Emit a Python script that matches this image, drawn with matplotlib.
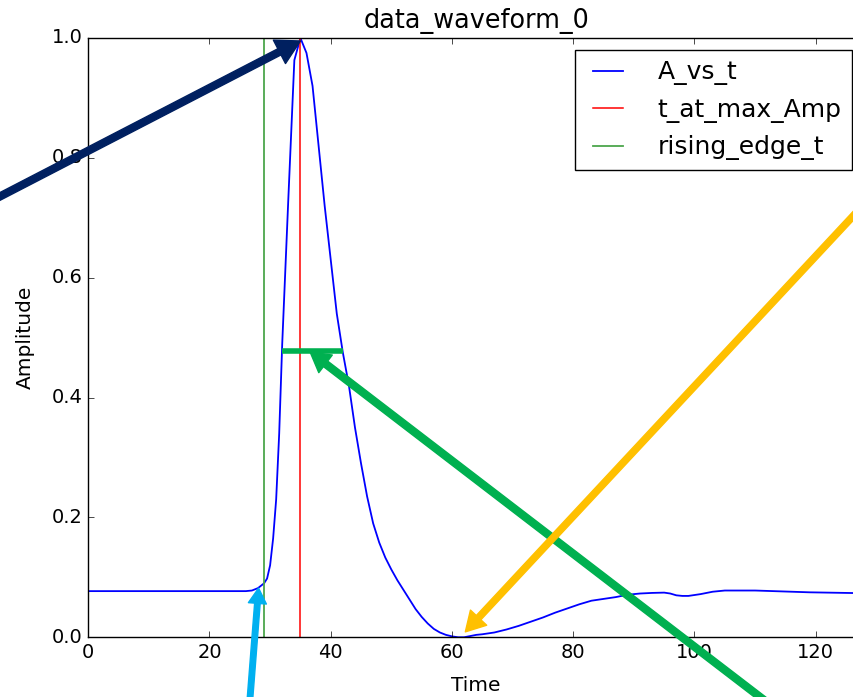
import matplotlib
matplotlib.use("Agg")
import matplotlib.pyplot as plt

# ---------------- data ----------------
time = [0, 5, 10, 15, 20, 25, 26, 27, 28, 29, 29.5, 30, 30.5, 31, 31.5, 32,
        33, 34, 35, 36, 37, 38, 39, 40, 41, 42, 43, 44, 45, 46, 47, 48, 49,
        50, 51, 52, 53, 54, 55, 56, 57, 58, 59, 60, 61, 62, 63, 64, 65, 67,
        69, 71, 73, 75, 77, 79, 81, 83, 85, 87, 89, 91, 93, 95, 96, 97, 98,
        99, 100, 101, 102, 103, 104, 105, 107, 110, 113, 116, 119, 122, 125,
        128]
amplitude = [0.077, 0.077, 0.077, 0.077, 0.077, 0.077, 0.077, 0.078, 0.082,
             0.09, 0.098, 0.12, 0.165, 0.23, 0.34, 0.49,
             0.73, 0.963, 1.0, 0.975, 0.92, 0.82, 0.72, 0.63, 0.54, 0.475,
             0.42, 0.35, 0.29, 0.235, 0.19, 0.158, 0.133,
             0.113, 0.095, 0.079, 0.063, 0.047, 0.034, 0.023, 0.014, 0.008,
             0.004, 0.0015, 0.0, 0.0, 0.002, 0.004, 0.005, 0.008,
             0.013, 0.019, 0.026, 0.033, 0.041, 0.048, 0.055, 0.061, 0.064,
             0.067, 0.071, 0.073, 0.074, 0.0745, 0.073, 0.070, 0.069,
             0.069, 0.0705, 0.072, 0.074, 0.076, 0.077, 0.078, 0.078, 0.078,
             0.077, 0.076, 0.075, 0.0745, 0.074, 0.0735]
t_at_max_amp = 35.0
rising_edge_t = 29.0
half_max_level = 0.477
half_max_t = [32.0, 42.1]

# annotation anchor points (data) for the overlay arrows
peak_point = (35.0, 0.995)
edge_point = (28.1, 0.082)
fwhm_point = (36.6, 0.476)
min_point = (62.2, 0.009)

plt.style.use("classic")
plt.rcParams["figure.facecolor"] = "white"
plt.rcParams["savefig.facecolor"] = "white"
plt.rcParams["font.family"] = "DejaVu Sans"

fig = plt.figure(figsize=(8.54, 6.97), dpi=100)
ax = fig.add_axes([0.1033, 0.0857, 0.9087, 0.8598])

ax.plot(time, amplitude, color="b", lw=1.3, label="A_vs_t")
ax.axvline(t_at_max_amp, color="r", lw=1.1, label="t_at_max_Amp")
ax.axvline(rising_edge_t, color="#4ca64c", lw=1.3, label="rising_edge_t")

ax.set_xlim(0, 128)
ax.set_ylim(0, 1.0)
ax.set_xticks([0, 20, 40, 60, 80, 100, 120])
ax.set_yticks([0.0, 0.2, 0.4, 0.6, 0.8, 1.0])
ax.tick_params(labelsize=14)
ax.set_xlabel("Time", fontsize=14.5, labelpad=10)
ax.set_ylabel("Amplitude", fontsize=14.5, labelpad=12)
ax.set_title("data_waveform_0", fontsize=18.4, pad=7)

leg = ax.legend(loc="upper right", fontsize=18, numpoints=2,
                handlelength=1.8, handletextpad=1.1)
leg.get_frame().set_linewidth(1.0)

# ---------------- overlay annotations ----------------
ax.plot(half_max_t, [half_max_level, half_max_level], color="#00B050",
        lw=4.0, solid_capstyle="butt", clip_on=False)

def arrow(xy, tail, color, width, hw, hl):
    ax.annotate("", xy=xy, xycoords="data", xytext=tail,
                textcoords="figure fraction", annotation_clip=False,
                arrowprops=dict(facecolor=color, edgecolor=color, width=width,
                                headwidth=hw, headlength=hl, shrink=0.0))

arrow(peak_point, (-0.02, 0.7055), "#002060", 5.0, 19, 17)
arrow(edge_point, (0.2916, -0.02), "#00B0F0", 4.0, 13, 11)
arrow(fwhm_point, (0.9075, -0.0165), "#00B050", 5.0, 16, 14)
arrow(min_point, (1.0187, 0.716), "#FFC000", 4.5, 16, 14)

fig.savefig("out.png", dpi=100)
